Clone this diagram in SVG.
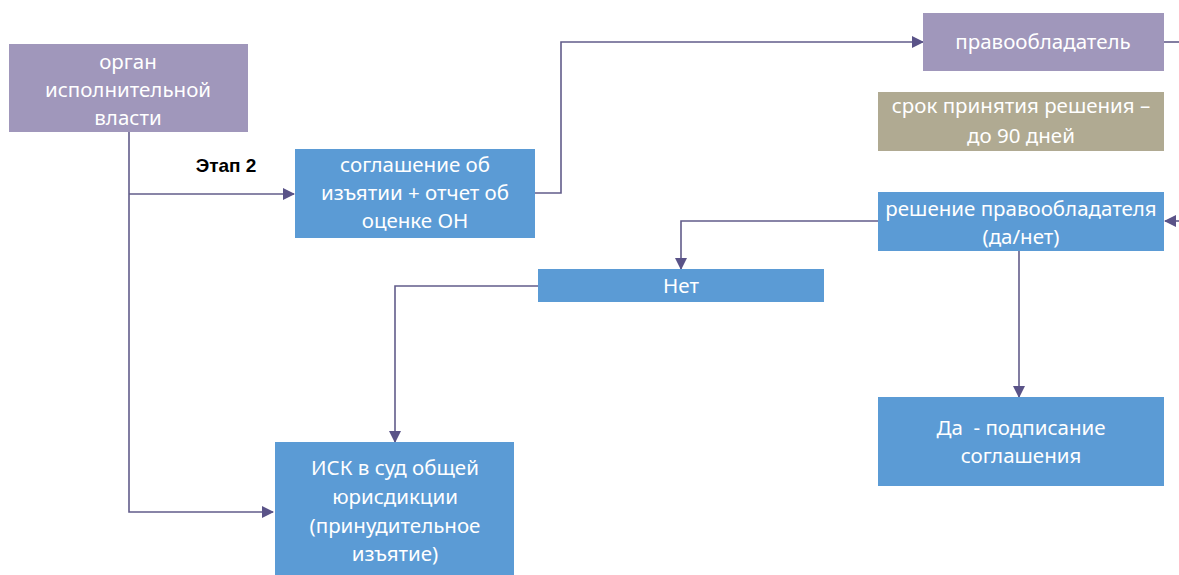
<svg xmlns="http://www.w3.org/2000/svg" width="1179" height="575" viewBox="0 0 1179 575">
<defs>
<style>
.t{font-family:"Noto Sans","Liberation Sans",sans-serif;font-size:20.5px;fill:#ffffff;text-anchor:middle;white-space:pre}
.b{font-family:"Liberation Sans",Arial,sans-serif;font-size:19px;font-weight:bold;fill:#000;text-anchor:middle}
.p{fill:#A097BB}
.bl{fill:#5B9BD5}
.k{fill:#B0AA92}
.c{fill:none;stroke:#625C8A;stroke-width:1.6}
</style>
<marker id="a" markerWidth="12" markerHeight="12" refX="11" refY="6" orient="auto" markerUnits="userSpaceOnUse" viewBox="0 0 12 12">
<path d="M0,0 L12,6 L0,12 Z" fill="#5A5388"/>
</marker>
</defs>
<rect width="1179" height="575" fill="#fff"/>
<g id="connectors">
<path class="c" d="M129,132 V512 H273" marker-end="url(#a)"/>
<path class="c" d="M129,194 H294" marker-end="url(#a)"/>
<path class="c" d="M535,193 H561 V42 H923" marker-end="url(#a)"/>
<path class="c" d="M1164,42 H1179"/>
<path class="c" d="M1180,221 H1165" marker-end="url(#a)"/>
<path class="c" d="M878,221 H681 V269" marker-end="url(#a)"/>
<path class="c" d="M538,286 H395 V442" marker-end="url(#a)"/>
<path class="c" d="M1019,251 V397" marker-end="url(#a)"/>
</g>
<g id="organ">
<rect class="p" x="9" y="44" width="239" height="88"/>
<text class="t" x="128" y="69">орган</text>
<text class="t" x="128" y="97">исполнительной</text>
<text class="t" x="128" y="125">власти</text>
</g>
<g id="etap">
<text class="b" x="226" y="172">Этап 2</text>
</g>
<g id="soglashenie">
<rect class="bl" x="295" y="149" width="240" height="89"/>
<text class="t" x="415" y="172">соглашение об</text>
<text class="t" x="415" y="200">изъятии + отчет об</text>
<text class="t" x="415" y="228">оценке ОН</text>
</g>
<g id="pravoobladatel">
<rect class="p" x="923" y="13" width="241" height="58"/>
<text class="t" x="1043" y="49">правообладатель</text>
</g>
<g id="srok">
<rect class="k" x="878" y="92" width="286" height="59"/>
<text class="t" x="1021" y="113">срок принятия решения –</text>
<text class="t" x="1021" y="143">до 90 дней</text>
</g>
<g id="reshenie">
<rect class="bl" x="878" y="192" width="286" height="59"/>
<text class="t" x="1021" y="216">решение правообладателя</text>
<text class="t" x="1021" y="244">(да/нет)</text>
</g>
<g id="net">
<rect class="bl" x="538" y="269" width="286" height="33"/>
<text class="t" x="681" y="293">Нет</text>
</g>
<g id="isk">
<rect class="bl" x="275" y="442" width="239" height="133"/>
<text class="t" x="395" y="475">ИСК в суд общей</text>
<text class="t" x="395" y="504">юрисдикции</text>
<text class="t" x="395" y="533">(принудительное</text>
<text class="t" x="395" y="561">изъятие)</text>
</g>
<g id="da">
<rect class="bl" x="878" y="397" width="286" height="89"/>
<text class="t" x="1021" y="435">Да  - подписание</text>
<text class="t" x="1021" y="463">соглашения</text>
</g>
</svg>
